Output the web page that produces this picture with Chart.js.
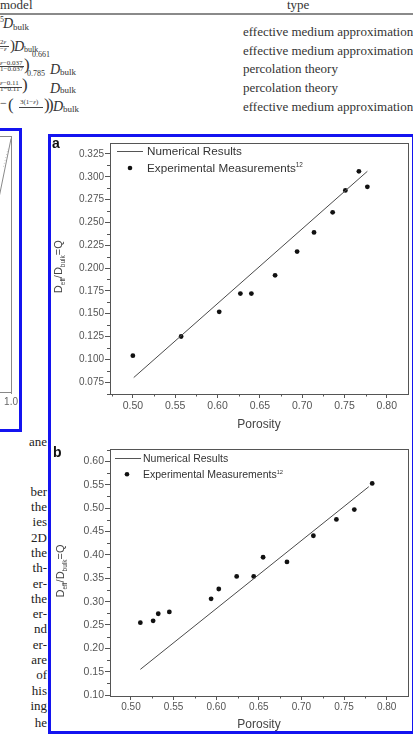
<!DOCTYPE html>
<html>
<head>
<meta charset="utf-8">
<script src="https://cdn.jsdelivr.net/npm/chart.js@4.4.1/dist/chart.umd.min.js"></script>
<style>
html, body { margin: 0; padding: 0; background: #fff; }
body { width: 413px; height: 736px; overflow: hidden; position: relative;
  font-family: "Liberation Serif", "Times New Roman", serif; color: #333; }
.t { position: absolute; white-space: nowrap; line-height: 1; }
.i { font-style: italic; }
.bar { position: absolute; height: 0; border-top: 0.8px solid #444; }
.box { position: absolute; border: 3px solid #1414f0; box-sizing: border-box; }
.p { position: absolute; right: 366px; white-space: nowrap; line-height: 1; font-size: 13px; color: #222; text-align: right; }
canvas { position: absolute; }
</style>
</head>
<body>

<!-- table at the top of the page -->
<div class="t" style="left:0;top:-2px;font-size:13px">model</div>
<div class="t" style="left:287px;top:-2px;font-size:13px">type</div>
<div style="position:absolute;left:0;top:13px;width:413px;height:2px;background:#8a8a8a"></div>

<div class="t" style="left:0;top:16px;font-size:8px">5</div>
<div class="t i" style="left:3px;top:17px;font-size:14px">D</div>
<div class="t" style="left:13px;top:23px;font-size:9px">bulk</div>

<div class="t" style="left:0;top:38.5px;font-size:7px">2<span class="i">ε</span></div>
<div class="bar" style="left:0;top:46px;width:9px"></div>
<div class="t" style="left:0;top:46px;font-size:7px">−<span class="i">ε</span></div>
<div class="t" style="left:10px;top:38px;font-size:15px">)</div>
<div class="t i" style="left:14px;top:39.5px;font-size:14px">D</div>
<div class="t" style="left:24px;top:45.5px;font-size:8px">bulk</div>

<div class="t" style="left:32px;top:51px;font-size:8px">0.661</div>
<div class="t" style="left:0;top:59.5px;font-size:7px"><span class="i">ε</span>−0.037</div>
<div class="bar" style="left:0;top:66px;width:24px"></div>
<div class="t" style="left:0;top:66px;font-size:7px">1−0.037</div>
<div class="t" style="left:24px;top:56px;font-size:17px">)</div>
<div class="t i" style="left:50px;top:63px;font-size:14px">D</div>
<div class="t" style="left:60px;top:67.5px;font-size:9px">bulk</div>

<div class="t" style="left:27px;top:70px;font-size:8px">0.785</div>
<div class="t" style="left:0;top:80px;font-size:7px"><span class="i">ε</span>−0.11</div>
<div class="bar" style="left:0;top:86.5px;width:22px"></div>
<div class="t" style="left:0;top:86px;font-size:7px">1−0.11</div>
<div class="t" style="left:22px;top:76px;font-size:17px">)</div>
<div class="t i" style="left:50px;top:81.5px;font-size:14px">D</div>
<div class="t" style="left:60px;top:86px;font-size:9px">bulk</div>

<div class="t" style="left:0;top:97px;font-size:12px">−</div>
<div class="t" style="left:8px;top:96px;font-size:17px">(</div>
<div class="t" style="left:20px;top:98.5px;font-size:7px">3(1−<span class="i">ε</span>)</div>
<div class="bar" style="left:19px;top:106.5px;width:24px"></div>
<div class="t" style="left:44px;top:96px;font-size:17px">)</div>
<div class="t" style="left:48px;top:96px;font-size:17px">)</div>
<div class="t i" style="left:53px;top:99.5px;font-size:14px">D</div>
<div class="t" style="left:63px;top:105px;font-size:9px">bulk</div>

<div class="t" style="left:243px;top:25px;font-size:13px">effective medium approximation</div>
<div class="t" style="left:243px;top:44px;font-size:13px">effective medium approximation</div>
<div class="t" style="left:243px;top:62px;font-size:13px">percolation theory</div>
<div class="t" style="left:243px;top:81px;font-size:13px">percolation theory</div>
<div class="t" style="left:243px;top:100px;font-size:13px">effective medium approximation</div>

<!-- left column text fragments -->
<div class="p" style="top:435px">ane</div>
<div class="p" style="top:485px">ber</div>
<div class="p" style="top:500px">the</div>
<div class="p" style="top:515px">ies</div>
<div class="p" style="top:531px">2D</div>
<div class="p" style="top:546px">the</div>
<div class="p" style="top:561px">th-</div>
<div class="p" style="top:577px">er-</div>
<div class="p" style="top:592px">the</div>
<div class="p" style="top:607px">er-</div>
<div class="p" style="top:622px">nd</div>
<div class="p" style="top:638px">er-</div>
<div class="p" style="top:653px">are</div>
<div class="p" style="top:668px">of</div>
<div class="p" style="top:684px">his</div>
<div class="p" style="top:699px">ing</div>
<div class="p" style="top:716px">he</div>

<div class="box" style="left:-10px;top:128px;width:32px;height:304px"></div>
<div class="box" style="left:48px;top:134px;width:367px;height:600px"></div>

<canvas id="frag" width="170" height="285" style="left:-150px;top:130px"></canvas>
<canvas id="chartA" width="361" height="299" style="left:51px;top:136px"></canvas>
<canvas id="chartB" width="361" height="293" style="left:51px;top:442px"></canvas>

<script>
// tick labels
const xTicks = [0.50, 0.55, 0.60, 0.65, 0.70, 0.75, 0.80];
const yTicksA = [0.075, 0.100, 0.125, 0.150, 0.175, 0.200, 0.225, 0.250, 0.275, 0.300, 0.325];
const yTicksB = [0.10, 0.15, 0.20, 0.25, 0.30, 0.35, 0.40, 0.45, 0.50, 0.55, 0.60];

// panel a
const porosityA = [0.500, 0.557, 0.602, 0.627, 0.640, 0.668, 0.694, 0.714, 0.736, 0.751, 0.767, 0.777];
const measuredA = [0.104, 0.125, 0.152, 0.172, 0.172, 0.192, 0.218, 0.239, 0.261, 0.285, 0.306, 0.289];
const numPorosityA = [0.501, 0.777];
const numericalA = [0.080, 0.306];

// panel b
const porosityB = [0.511, 0.526, 0.532, 0.545, 0.594, 0.603, 0.624, 0.644, 0.655, 0.683, 0.714, 0.741, 0.762, 0.783];
const measuredB = [0.255, 0.259, 0.274, 0.278, 0.306, 0.327, 0.354, 0.354, 0.395, 0.385, 0.441, 0.476, 0.497, 0.553];
const numPorosityB = [0.511, 0.779];
const numericalB = [0.155, 0.546];

// cropped chart on the left edge
const fragX = [0.90, 1.00];
const fragY = [0.70, 0.99];
const fragDashX = [0.95, 0.98];
const fragDashY = [0.88, 0.95];
const fragTicks = [1.0];

const SANS = '"Liberation Sans", Arial, sans-serif';
const AX = '#555';

function pts(xs, ys) { return xs.map((x, i) => ({ x: x, y: ys[i] })); }

function minors(arr, min, max) {
  const step = arr[1] - arr[0];
  const out = [arr[0] - step / 2];
  for (let i = 1; i < arr.length; i++) out.push((arr[i - 1] + arr[i]) / 2);
  out.push(arr[arr.length - 1] + step / 2);
  return out.filter(v => v > min + 1e-6 && v < max - 1e-6);
}

function framePlugin(color) {
  return {
    id: 'frame',
    afterDraw(chart) {
      const a = chart.chartArea, ctx = chart.ctx;
      ctx.save();
      ctx.strokeStyle = color; ctx.lineWidth = 1;
      ctx.strokeRect(Math.round(a.left) + 0.5, Math.round(a.top) + 0.5,
        Math.round(a.right - a.left), Math.round(a.bottom - a.top));
      ctx.restore();
    }
  };
}

function minorPlugin(mx, my) {
  return {
    id: 'minorTicks',
    afterDraw(chart) {
      const ctx = chart.ctx, xs = chart.scales.x, ys = chart.scales.y;
      ctx.save();
      ctx.strokeStyle = AX; ctx.lineWidth = 1;
      ctx.beginPath();
      mx.forEach(v => {
        const px = Math.round(xs.getPixelForValue(v)) + 0.5;
        ctx.moveTo(px, xs.top); ctx.lineTo(px, xs.top + 2.5);
      });
      my.forEach(v => {
        const py = Math.round(ys.getPixelForValue(v)) + 0.5;
        ctx.moveTo(ys.right, py); ctx.lineTo(ys.right - 3, py);
      });
      ctx.stroke();
      ctx.restore();
    }
  };
}

// draws a run of pieces (text with sub/superscripts) starting at x, baseline y
function rich(ctx, pieces, x, y) {
  pieces.forEach(pc => {
    ctx.font = pc.size + 'px ' + SANS;
    ctx.fillText(pc.t, x, y + (pc.dy || 0));
    x += ctx.measureText(pc.t).width;
  });
}
function richWidth(ctx, pieces) {
  let w = 0;
  pieces.forEach(pc => { ctx.font = pc.size + 'px ' + SANS; w += ctx.measureText(pc.t).width; });
  return w;
}

function decoPlugin(d) {
  return {
    id: 'deco',
    afterDraw(chart) {
      const ctx = chart.ctx;
      ctx.save();
      ctx.textBaseline = 'alphabetic';
      // panel letter
      ctx.fillStyle = '#111';
      ctx.font = 'bold 14px ' + SANS;
      ctx.fillText(d.letter, d.letterX, d.letterY + 5);
      // rotated y title
      const title = [
        { t: 'D', size: 11 }, { t: 'eff', size: 6.5, dy: 3 },
        { t: '/D', size: 11 }, { t: 'bulk', size: 6.5, dy: 3 },
        { t: '=Q', size: 11 }
      ];
      ctx.save();
      ctx.fillStyle = '#444';
      ctx.translate(d.titleX, d.titleY);
      ctx.rotate(-Math.PI / 2);
      rich(ctx, title, -richWidth(ctx, title) / 2, 4);
      ctx.restore();
      // legend
      ctx.strokeStyle = AX; ctx.lineWidth = 1;
      ctx.beginPath();
      ctx.moveTo(d.lineX0, Math.round(d.row1) + 0.5);
      ctx.lineTo(d.lineX1, Math.round(d.row1) + 0.5);
      ctx.stroke();
      ctx.fillStyle = '#111';
      ctx.beginPath();
      ctx.arc(d.dotX, d.row2, 2.3, 0, Math.PI * 2);
      ctx.fill();
      ctx.fillStyle = '#333';
      const base = d.font * 0.36;
      rich(ctx, [{ t: 'Numerical Results', size: d.font }], d.textX, d.row1 + base);
      rich(ctx, [{ t: 'Experimental Measurements', size: d.font },
                 { t: '12', size: d.font * 0.55, dy: -d.font * 0.42 }], d.textX, d.row2 + base);
      ctx.restore();
    }
  };
}

function panel(id, p) {
  new Chart(document.getElementById(id), {
    type: 'scatter',
    data: {
      datasets: [
        { data: pts(p.numX, p.numY), showLine: true, borderColor: '#4a4a4a', borderWidth: 1, pointRadius: 0 },
        { data: pts(p.expX, p.expY), showLine: false, pointRadius: 2.4, pointBackgroundColor: '#111', pointBorderWidth: 0 }
      ]
    },
    options: {
      responsive: false, animation: false, devicePixelRatio: 1,
      layout: { padding: { top: p.padTop, right: p.padRight, left: 0, bottom: 0 } },
      plugins: { legend: { display: false }, tooltip: { enabled: false } },
      scales: {
        x: {
          type: 'linear', min: p.xMin, max: p.xMax,
          afterBuildTicks: s => { s.ticks = xTicks.map(v => ({ value: v })); },
          afterFit: s => { s.height = p.xAxisH; },
          grid: { drawOnChartArea: false, tickLength: 4, color: AX, tickColor: AX },
          border: { color: AX },
          ticks: { color: '#555', font: { size: p.xFont, family: SANS }, padding: p.xPad, maxRotation: 0,
                   callback: v => v.toFixed(2) },
          title: { display: true, text: 'Porosity', color: '#444', font: { size: 12, family: SANS },
                   padding: { top: 0, bottom: 3 } }
        },
        y: {
          type: 'linear', min: p.yMin, max: p.yMax,
          afterBuildTicks: s => { s.ticks = p.yTicks.map(v => ({ value: v })); },
          afterFit: s => { s.width = 59; },
          grid: { drawOnChartArea: false, tickLength: 5, color: AX, tickColor: AX },
          border: { color: AX },
          ticks: { color: '#555', font: { size: p.yFont, family: SANS }, padding: 1,
                   callback: v => v.toFixed(p.yDec) }
        }
      }
    },
    plugins: [framePlugin(AX), minorPlugin(minors(xTicks, p.xMin, p.xMax), minors(p.yTicks, p.yMin, p.yMax)), decoPlugin(p.deco)]
  });
}

panel('chartA', {
  numX: numPorosityA, numY: numericalA, expX: porosityA, expY: measuredA,
  xMin: 0.473, xMax: 0.825, yMin: 0.062, yMax: 0.337, yTicks: yTicksA, yDec: 3,
  padTop: 2, padRight: 2, xAxisH: 41, xFont: 10.5, xPad: 2, yFont: 10,
  deco: { letter: 'a', letterX: 1, letterY: 6.5, titleX: 7, titleY: 130.7,
          lineX0: 66, lineX1: 92, textX: 96, dotX: 79, row1: 15, row2: 32, font: 11.7 }
});

panel('chartB', {
  numX: numPorosityB, numY: numericalB, expX: porosityB, expY: measuredB,
  xMin: 0.4754, xMax: 0.825, yMin: 0.098, yMax: 0.626, yTicks: yTicksB, yDec: 2,
  padTop: 2.5, padRight: 4, xAxisH: 39, xFont: 10, xPad: 1, yFont: 10.5,
  deco: { letter: 'b', letterX: 2, letterY: 10, titleX: 9, titleY: 129,
          lineX0: 64, lineX1: 90, textX: 92, dotX: 76, row1: 16.3, row2: 32.3, font: 10.5 }
});

// cropped neighbour chart at the left border
new Chart(document.getElementById('frag'), {
  type: 'scatter',
  data: {
    datasets: [
      { data: pts(fragX, fragY), showLine: true, borderColor: '#8a8a8a', borderWidth: 1, pointRadius: 0 },
      { data: pts(fragDashX, fragDashY), showLine: true, borderColor: '#c4c4c4', borderWidth: 1, borderDash: [1, 2], pointRadius: 0 }
    ]
  },
  options: {
    responsive: false, animation: false, devicePixelRatio: 1,
    layout: { padding: { top: 6, right: 7, left: 10, bottom: 0 } },
    plugins: { legend: { display: false }, tooltip: { enabled: false } },
    scales: {
      x: {
        type: 'linear', min: 0, max: 1,
        afterBuildTicks: s => { s.ticks = fragTicks.map(v => ({ value: v })); },
        afterFit: s => { s.height = 23; },
        grid: { drawOnChartArea: false, tickLength: 2, color: '#888', tickColor: '#888' },
        border: { color: '#888' },
        ticks: { color: '#666', font: { size: 10, family: SANS }, padding: 2, maxRotation: 0,
                 callback: v => v.toFixed(1) }
      },
      y: { type: 'linear', min: 0, max: 1, display: false }
    }
  },
  plugins: [framePlugin('#888')]
});
</script>
</body>
</html>
